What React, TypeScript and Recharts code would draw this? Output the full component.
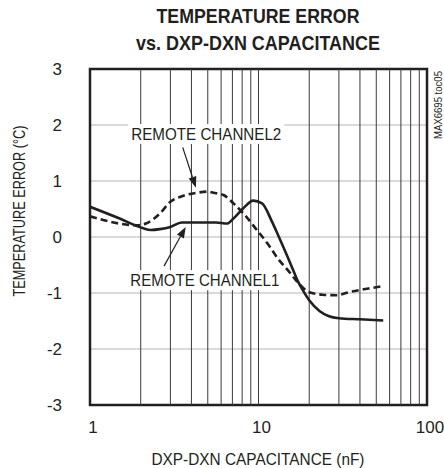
import {
  LineChart,
  Line,
  XAxis,
  YAxis,
  CartesianGrid,
  ReferenceLine,
  ReferenceArea,
  ReferenceDot,
  Customized,
} from 'recharts'

// capacitance (nF) / temperature error (°C)
const ch1Cap = [1, 1.5, 2.05, 2.3, 2.6, 3.0, 3.5, 4.3, 5.6, 6.5, 7.1, 8.1, 9.3, 10.5, 12, 13, 14, 15, 16, 17, 18.5, 20, 23, 26, 30, 40, 55]
const ch1Err = [0.54, 0.33, 0.16, 0.125, 0.14, 0.18, 0.26, 0.26, 0.26, 0.24, 0.33, 0.51, 0.65, 0.6, 0.28, 0.05, -0.17, -0.38, -0.58, -0.77, -0.97, -1.13, -1.32, -1.41, -1.45, -1.47, -1.49]

const ch2Cap = [1, 1.9, 2.15, 2.6, 3.0, 3.45, 4.3, 5.0, 5.4, 6.2, 7.1, 8.3, 9.6, 11.4, 13, 15, 17, 19.8, 24, 29, 35, 45, 55]
const ch2Err = [0.37, 0.21, 0.24, 0.42, 0.63, 0.72, 0.79, 0.81, 0.79, 0.75, 0.6, 0.39, 0.155, -0.13, -0.38, -0.6, -0.8, -0.98, -1.03, -1.04, -0.98, -0.92, -0.875]

const xTicks = [1, 10, 100]
const xMinor = [2, 3, 4, 5, 6, 7, 8, 9, 10, 20, 30, 40, 50, 60, 70, 80, 90]
const yTicks = [-3, -2, -1, 0, 1, 2, 3]

const ch1 = ch1Cap.map((c, i) => ({ c, t: ch1Err[i] }))
const ch2 = ch2Cap.map((c, i) => ({ c, t: ch2Err[i] }))

const FONT = "'Liberation Sans Narrow', 'Arial Narrow', 'Liberation Sans', Arial, sans-serif"
const INK = '#231f20'

// label boxes + arrows sit in data space so they follow the scales
const labels = [
  { text: 'REMOTE CHANNEL2', x: 4.9, y: 1.84, len: 150 },
  { text: 'REMOTE CHANNEL1', x: 4.8, y: -0.77, len: 149 },
]
const arrows = [
  { from: { x: 3.55, y: 1.6 }, to: { x: 4.25, y: 0.88 } },
  { from: { x: 2.75, y: -0.52 }, to: { x: 3.7, y: 0.18 } },
]

function Arrow(p: any) {
  const { x1, y1, x2, y2 } = p
  const a = Math.atan2(y2 - y1, x2 - x1)
  const L = 11
  const W = 4
  const bx = x2 - L * Math.cos(a)
  const by = y2 - L * Math.sin(a)
  const nx = -Math.sin(a) * W
  const ny = Math.cos(a) * W
  return (
    <g>
      <line x1={x1} y1={y1} x2={bx} y2={by} stroke={INK} strokeWidth={1.2} />
      <polygon points={`${x2},${y2} ${bx + nx},${by + ny} ${bx - nx},${by - ny}`} fill={INK} />
    </g>
  )
}

function labelShape(text: string, len: number) {
  return (p: any) => (
    <g>
      <rect x={p.cx - len / 2 - 3} y={p.cy - 10} width={len + 6} height={20} fill="#fff" />
      <text
        x={p.cx}
        y={p.cy}
        dy="0.36em"
        textAnchor="middle"
        fontFamily={FONT}
        fontSize={17}
        fill={INK}
        textLength={len}
        lengthAdjust="spacingAndGlyphs"
      >
        {text}
      </text>
    </g>
  )
}

function Texts() {
  const base = { fontFamily: FONT, fill: INK, lengthAdjust: 'spacingAndGlyphs' as const }
  return (
    <g>
      <text {...base} x={258} y={23} textAnchor="middle" fontSize={21} fontWeight="bold" textLength={203}>
        TEMPERATURE ERROR
      </text>
      <text {...base} x={258} y={50} textAnchor="middle" fontSize={21} fontWeight="bold" textLength={244}>
        vs. DXP-DXN CAPACITANCE
      </text>
      <text {...base} x={0} y={0} textAnchor="middle" fontSize={17} textLength={171}
        transform="translate(25 211) rotate(-90)">
        TEMPERATURE ERROR (°C)
      </text>
      <text {...base} x={258} y={465} textAnchor="middle" fontSize={17} textLength={213}>
        DXP-DXN CAPACITANCE (nF)
      </text>
      <text {...base} x={0} y={0} textAnchor="middle" fontSize={10} textLength={68}
        transform="translate(442 105) rotate(-90)">
        MAX6695 toc05
      </text>
    </g>
  )
}

export default function App() {
  return (
    <div style={{ position: 'absolute', left: 0, top: 0, width: 444, height: 468, background: '#fff' }}>
      <LineChart width={444} height={468} margin={{ top: 69, right: 17, bottom: 33, left: 0 }}>
        <CartesianGrid vertical={false} stroke="#b5b5b5" strokeWidth={1} />
        {xMinor.map((v) => (
          <ReferenceLine key={v} x={v} stroke="#3a3a3a" strokeWidth={1} />
        ))}
        <XAxis
          dataKey="c"
          type="number"
          scale="log"
          domain={[1, 100]}
          ticks={xTicks}
          allowDataOverflow
          axisLine={false}
          tickLine={false}
          tickSize={0}
          tickMargin={16}
          height={30}
          tick={{ fontFamily: FONT, fontSize: 17, fill: INK, dx: 3 }}
        />
        <YAxis
          type="number"
          domain={[-3, 3]}
          ticks={yTicks}
          width={90}
          axisLine={false}
          tickLine={false}
          tickSize={0}
          tickMargin={28}
          tick={{ fontFamily: FONT, fontSize: 17, fill: INK }}
        />
        <ReferenceArea x1={1} x2={100} y1={-3} y2={3} fill="none" stroke={INK} strokeWidth={2.5} ifOverflow="visible" />
        <Line
          data={ch2}
          dataKey="t"
          type="monotone"
          stroke={INK}
          strokeWidth={2.6}
          strokeDasharray="7 4"
          dot={false}
          isAnimationActive={false}
        />
        <Line
          data={ch1}
          dataKey="t"
          type="monotone"
          stroke={INK}
          strokeWidth={2.6}
          dot={false}
          isAnimationActive={false}
        />
        {labels.map((l) => (
          <ReferenceDot key={l.text} x={l.x} y={l.y} ifOverflow="visible" shape={labelShape(l.text, l.len)} />
        ))}
        {arrows.map((a, i) => (
          <ReferenceLine key={i} segment={[a.from, a.to]} ifOverflow="visible" shape={Arrow} />
        ))}
        <Customized component={Texts} />
      </LineChart>
    </div>
  )
}
